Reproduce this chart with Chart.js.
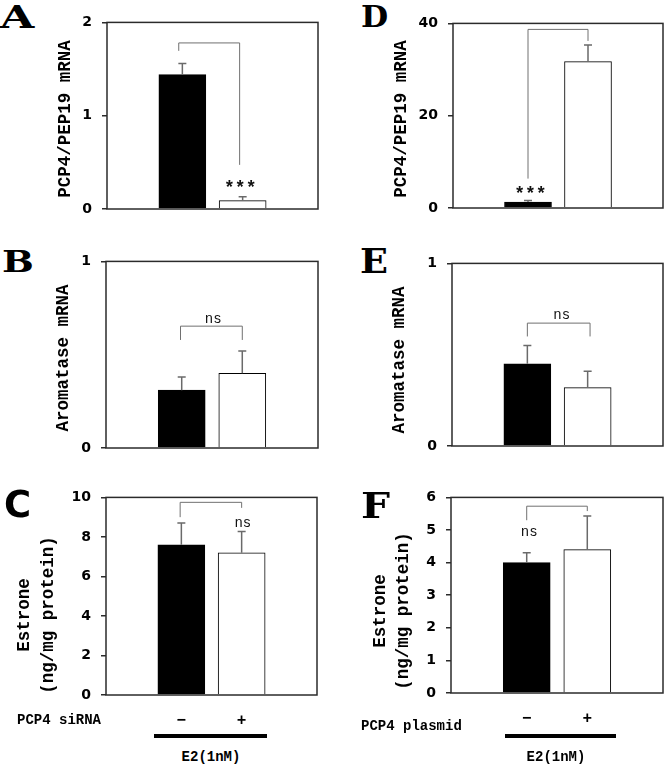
<!DOCTYPE html>
<html><head><meta charset="utf-8">
<script src="https://cdn.jsdelivr.net/npm/chart.js@4"></script>
<style>
body{margin:0;background:#fff;width:666px;height:767px;position:relative;overflow:hidden;}
canvas{position:absolute;}
.t{position:absolute;white-space:nowrap;font-family:"Liberation Mono",monospace;font-weight:bold;color:#000;line-height:1;}
.yt{transform:translate(-50%,-50%) rotate(-90deg);font-size:17.5px;text-align:center;}
.lt{position:absolute;font-family:"DejaVu Serif",serif;font-weight:bold;line-height:1;transform-origin:0 0;color:#000;}
.bar{position:absolute;background:#000;}
</style></head><body>
<script>
// ---- data ----
const categories = ['\u2212', '+'];
const ticksA = [0, 1, 2];
const ticksB = [0, 1];
const ticksC = [0, 2, 4, 6, 8, 10];
const ticksD = [0, 20, 40];
const ticksE = [0, 1];
const ticksF = [0, 1, 2, 3, 4, 5, 6];
const valuesA = [1.44, 0.09];  const errorsA = [0.12, 0.04];
const valuesB = [0.31, 0.40];  const errorsB = [0.07, 0.12];
const valuesC = [7.6, 7.2];    const errorsC = [1.1, 1.07];
const valuesD = [1.3, 31.7];   const errorsD = [0.3, 3.6];
const valuesE = [0.45, 0.32];  const errorsE = [0.10, 0.09];
const valuesF = [4.0, 4.4];    const errorsF = [0.3, 1.03];
const sigA = '***', sigB = 'ns', sigC = 'ns', sigD = '***', sigE = 'ns', sigF = 'ns';

// ---- layout / annotation config ----
const panels = [
  {values:valuesA, errors:errorsA, ticks:ticksA, plot:[107,18,318,221], xLabels:false,
   bracket:{top:1.78, ends:[1.695, 0.473], xs:[0.94, 1.95]}, sig:{text:sigA, x:1.96, y:0.276, size:18, weight:'bold'}},
  {values:valuesB, errors:errorsB, ticks:ticksB, plot:[106,257,318,460], xLabels:false,
   bracket:{top:0.653, ends:[0.579, 0.579], xs:[0.98, 2]}, sig:{text:sigB, x:1.52, y:0.689, size:14, weight:'normal'}},
  {values:valuesC, errors:errorsC, ticks:ticksC, plot:[106,493,317,695], xLabels:true,
   bracket:{top:9.75, ends:[9.0, 9.47], xs:[0.98, 2]}, sig:{text:sigC, x:2.02, y:8.7, size:14, weight:'normal'}},
  {values:valuesD, errors:errorsD, ticks:ticksD, plot:[453,19,663,220], xLabels:false,
   bracket:{top:38.7, ends:[6.37, 36.2], xs:[1, 2]}, sig:{text:sigD, x:1.04, y:4.0, size:18, weight:'bold'}},
  {values:valuesE, errors:errorsE, ticks:ticksE, plot:[452,259,663,458], xLabels:false,
   bracket:{top:0.673, ends:[0.60, 0.60], xs:[1, 2.04]}, sig:{text:sigE, x:1.57, y:0.719, size:14, weight:'normal'}},
  {values:valuesF, errors:errorsF, ticks:ticksF, plot:[451,493,663,693], xLabels:true,
   bracket:{top:5.73, ends:[5.3, 5.58], xs:[1, 2]}, sig:{text:sigF, x:1.04, y:4.94, size:14, weight:'normal'}}
];

const boxPlugin = {
  id:'box',
  afterDatasetsDraw(chart){
    const {ctx, chartArea:a} = chart;
    ctx.save(); ctx.strokeStyle = '#2b2b2b'; ctx.lineWidth = 1.5;
    ctx.strokeRect(a.left, a.top, a.right - a.left, a.bottom - a.top);
    ctx.restore();
  }
};

function annotPlugin(p){
  return {
    id:'annot',
    afterDatasetsDraw(chart){
      const {ctx} = chart; const xs = chart.scales.x, ys = chart.scales.y;
      ctx.save();
      // error bars
      ctx.strokeStyle = '#6a6a6a'; ctx.lineWidth = 1.5;
      p.values.forEach((v, i) => {
        const x = xs.getPixelForValue(i + 1);
        const y0 = ys.getPixelForValue(v), y1 = ys.getPixelForValue(v + p.errors[i]);
        ctx.beginPath(); ctx.moveTo(x, y0); ctx.lineTo(x, y1);
        ctx.moveTo(x - 4, y1); ctx.lineTo(x + 4, y1); ctx.stroke();
      });
      // bracket
      const b = p.bracket;
      const xl = xs.getPixelForValue(b.xs[0]), xr = xs.getPixelForValue(b.xs[1]);
      const yt = ys.getPixelForValue(b.top);
      ctx.strokeStyle = '#707070'; ctx.lineWidth = 1;
      ctx.beginPath();
      ctx.moveTo(xl, ys.getPixelForValue(b.ends[0])); ctx.lineTo(xl, yt);
      ctx.lineTo(xr, yt); ctx.lineTo(xr, ys.getPixelForValue(b.ends[1]));
      ctx.stroke();
      // significance text
      const s = p.sig;
      ctx.font = s.weight + ' ' + s.size + 'px "Liberation Mono", monospace';
      ctx.fillStyle = '#111'; ctx.textAlign = 'center'; ctx.textBaseline = 'alphabetic';
      const m = ctx.measureText(s.text);
      const cy = ys.getPixelForValue(s.y);
      ctx.fillText(s.text, xs.getPixelForValue(s.x), cy + (m.actualBoundingBoxAscent - m.actualBoundingBoxDescent) / 2);
      ctx.restore();
    }
  };
}

function makeChart(p){
  const [L, T, R, B] = p.plot;
  const padL = 48, padT = 14, padR = 4, bottomH = p.xLabels ? 40 : 12;
  const W = R - L + padL + padR, H = B - T + padT + bottomH;
  const c = document.createElement('canvas');
  c.width = W; c.height = H;
  c.style.left = (L - padL) + 'px'; c.style.top = (T - padT) + 'px';
  c.style.width = W + 'px'; c.style.height = H + 'px';
  document.body.appendChild(c);
  new Chart(c, {
    type:'bar',
    data:{datasets:[{
      data: p.values.map((v, i) => ({x: i + 1, y: v})),
      backgroundColor:['#000', '#fff'], borderColor:'#000', borderWidth:1,
      barThickness:47, borderSkipped:'start'
    }]},
    options:{
      responsive:false, animation:false, events:[], devicePixelRatio:1,
      layout:{padding:{top:padT, right:padR, left:0, bottom: p.xLabels ? 0 : bottomH}},
      plugins:{legend:{display:false}, tooltip:{enabled:false}},
      scales:{
        x:{
          type:'linear', min:-0.25, max:3.25, offset:false, display:p.xLabels,
          grid:{display:false, drawTicks:false}, border:{display:false},
          afterBuildTicks: s => { s.ticks = categories.map((c, i) => ({value: i + 1})); },
          afterFit: s => { s.height = bottomH; },
          ticks:{padding:16, autoSkip:false, maxRotation:0, color:'#000',
            font:{family:'"Liberation Mono", monospace', weight:'bold', size:16},
            callback:(v, i) => categories[i]}
        },
        y:{
          min:p.ticks[0], max:p.ticks[p.ticks.length - 1], offset:false,
          afterBuildTicks: s => { s.ticks = p.ticks.map(v => ({value: v})); },
          afterFit: s => { s.width = padL; },
          grid:{drawOnChartArea:false, drawTicks:true, tickLength:5, color:'#2b2b2b', lineWidth:1.5},
          border:{display:false},
          ticks:{padding:10, color:'#000', font:{family:'"DejaVu Sans", sans-serif', weight:'bold', size:14}}
        }
      }
    },
    plugins:[boxPlugin, annotPlugin(p)]
  });
}
panels.forEach(makeChart);

// ---- text ----
function txt(html, cls, style){
  const d = document.createElement('div'); d.className = cls; d.innerHTML = html;
  Object.assign(d.style, style); document.body.appendChild(d); return d;
}
txt('PCP4/PEP19 mRNA', 't yt', {left:'65.5px', top:'119px'});
txt('Aromatase mRNA', 't yt', {left:'64px', top:'358px'});
txt('Estrone<br>(ng/mg protein)', 't yt', {left:'36px', top:'615px', lineHeight:'24px'});
txt('PCP4/PEP19 mRNA', 't yt', {left:'402px', top:'119px'});
txt('Aromatase mRNA', 't yt', {left:'400px', top:'360px'});
txt('Estrone<br>(ng/mg protein)', 't yt', {left:'391.5px', top:'611px', lineHeight:'23px'});

txt('PCP4 siRNA', 't', {left:'17px', top:'713px', fontSize:'14px'});
txt('PCP4 plasmid', 't', {left:'361px', top:'719px', fontSize:'14px'});
txt('E2(1nM)', 't', {left:'211px', top:'750px', fontSize:'14px', transform:'translateX(-50%)'});
txt('E2(1nM)', 't', {left:'556px', top:'750px', fontSize:'14px', transform:'translateX(-50%)'});
txt('', 'bar', {left:'154px', top:'734px', width:'113px', height:'4px'});
txt('', 'bar', {left:'505px', top:'734px', width:'111px', height:'4px'});

// panel letters
txt('A', 'lt', {left:'0px', top:'1px', fontSize:'32px', transform:'scaleX(1.38)'});
txt('B', 'lt', {left:'2px', top:'248px', fontSize:'29px', transform:'scaleX(1.3)'});
txt('C', 'lt', {left:'4px', top:'486px', fontSize:'37px', fontFamily:'"DejaVu Sans", sans-serif'});
txt('D', 'lt', {left:'361px', top:'3px', fontSize:'29px', transform:'scaleX(1.08)'});
txt('E', 'lt', {left:'360px', top:'244px', fontSize:'34px', transform:'scaleX(1.08)'});
txt('F', 'lt', {left:'361px', top:'488px', fontSize:'35px', transform:'scaleX(1.17)'});
</script>
</body></html>
